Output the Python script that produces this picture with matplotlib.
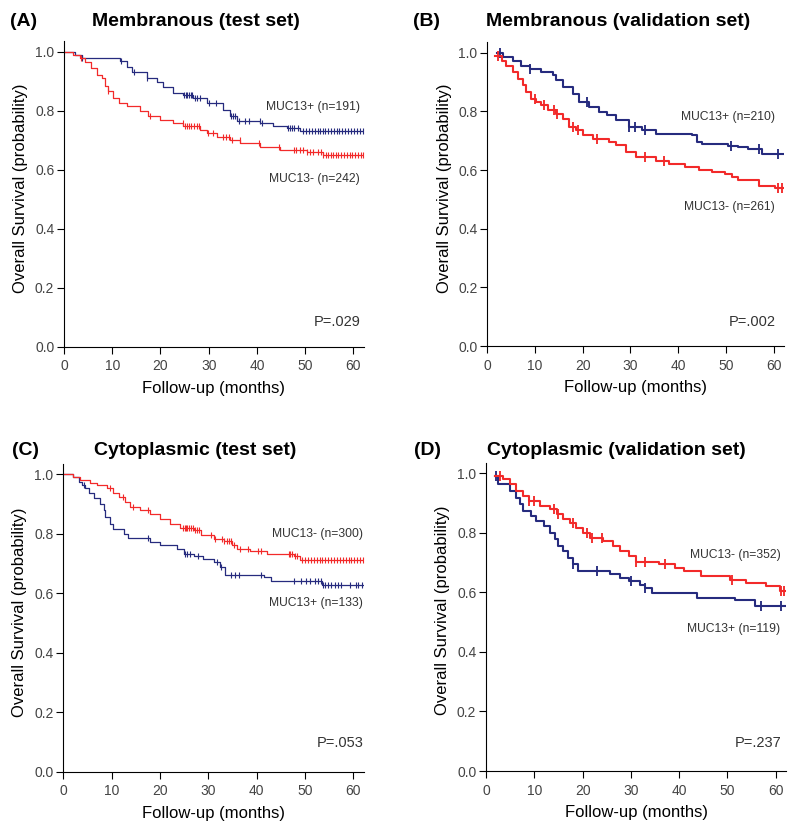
import numpy as np
import matplotlib
matplotlib.use('Agg')
import matplotlib.pyplot as plt

plt.rcParams['font.family'] = ['Liberation Sans', 'DejaVu Sans']

BLUE = '#262b7e'
RED = '#f22a2a'

# (A) Membranous, test set
a_pos_t = [0, 2.3, 3.7, 11.6, 13.0, 14.0, 17.2, 19.2, 20.6, 22.7, 24.7, 26.8, 29.6, 33.0, 34.4, 35.8, 40.7, 43.4, 46.2, 49.0]
a_pos_s = [1.0, 0.99, 0.978, 0.968, 0.95, 0.93, 0.913, 0.899, 0.882, 0.862, 0.854, 0.843, 0.826, 0.803, 0.781, 0.766, 0.758, 0.747, 0.741, 0.731]
a_pos_c = [3.8, 11.8, 14.5, 17.3, 24.8, 25.2, 25.5, 25.9, 26.3, 26.6, 27.2, 27.6, 28.3, 30.0, 31.5, 34.6, 35.0, 35.5,
           36.3, 37.6, 38.4, 40.6, 41.0, 46.4, 46.8, 47.2, 47.7, 48.5, 49.6, 50.2, 50.8, 51.4, 52.0, 52.6, 53.1, 53.6,
           54.2, 54.8, 55.4, 56.0, 56.5, 57.1, 57.7, 58.3, 58.9, 59.5, 60.1, 60.7, 61.3, 61.9]
a_neg_t = [0, 1.9, 3.3, 4.4, 5.7, 6.8, 7.8, 8.5, 9.2, 10.2, 11.3, 13.0, 15.8, 17.5, 19.9, 22.7, 24.7, 28.2, 29.6, 31.7,
           34.4, 36.5, 40.7, 44.8, 50.3, 53.8]
a_neg_s = [1.0, 0.99, 0.979, 0.967, 0.945, 0.922, 0.911, 0.883, 0.866, 0.843, 0.826, 0.815, 0.798, 0.781, 0.769, 0.758,
           0.749, 0.736, 0.724, 0.713, 0.702, 0.69, 0.679, 0.667, 0.662, 0.652]
a_neg_c = [3.6, 9.2, 17.8, 24.6, 25.0, 25.4, 25.9, 26.4, 26.9, 27.5, 28.0, 29.8, 30.9, 33.0, 33.6, 34.2, 34.9, 36.4,
           40.5, 44.6, 47.6, 48.2, 49.0, 49.6, 50.3, 51.0, 51.6, 52.6, 53.2, 53.8, 54.3, 54.8, 55.3, 55.8, 56.3, 56.8,
           57.4, 58.0, 58.6, 59.2, 59.8, 60.4, 61.0, 61.6, 62.0]

# (B) Membranous, validation set
b_pos_t = [2.0, 3.4, 5.4, 7.1, 8.9, 11.3, 13.75, 14.4, 15.8, 17.9, 19.3, 21.4, 23.5, 25.2, 26.9, 29.7, 32.5, 35.3,
           42.9, 43.9, 45.0, 50.5, 52.6, 54.7, 57.5]
b_pos_s = [1.0, 0.984, 0.97, 0.953, 0.944, 0.935, 0.922, 0.905, 0.882, 0.859, 0.831, 0.814, 0.799, 0.786, 0.769,
           0.748, 0.735, 0.723, 0.718, 0.695, 0.688, 0.683, 0.678, 0.672, 0.655]
b_pos_c = [2.6, 9.0, 21.0, 29.8, 31.0, 33.0, 51.0, 57.0, 61.0]
b_neg_t = [1.7, 3.0, 4.0, 5.4, 6.5, 7.5, 8.2, 9.2, 10.3, 11.3, 12.7, 14.4, 15.8, 17.2, 18.6, 20.0, 22.1, 25.6, 27.0,
           29.0, 31.1, 35.3, 38.1, 41.5, 44.3, 47.1, 49.9, 51.2, 52.6, 57.0, 60.3]
b_neg_s = [0.99, 0.972, 0.956, 0.933, 0.91, 0.888, 0.865, 0.842, 0.831, 0.82, 0.803, 0.791, 0.774, 0.746, 0.735, 0.72,
           0.707, 0.696, 0.684, 0.663, 0.644, 0.632, 0.621, 0.61, 0.599, 0.593, 0.588, 0.576, 0.565, 0.545, 0.537]
b_neg_c = [2.3, 10.0, 12.0, 14.0, 14.6, 18.0, 19.0, 23.0, 33.0, 37.0, 61.0, 61.8]

# (C) Cytoplasmic, test set
c_neg_t = [0, 2.1, 3.5, 5.6, 7.0, 9.0, 10.4, 11.5, 12.8, 13.9, 15.9, 18.0, 20.1, 22.1, 24.2, 27.0, 28.4, 31.1, 33.2,
           34.9, 35.9, 38.7, 42.2, 47.7, 49.0]
c_neg_s = [1.0, 0.992, 0.981, 0.97, 0.964, 0.953, 0.936, 0.924, 0.908, 0.891, 0.879, 0.868, 0.851, 0.834, 0.82, 0.812,
           0.795, 0.784, 0.775, 0.763, 0.75, 0.741, 0.733, 0.725, 0.712]
c_neg_c = [9.7, 12.3, 14.4, 17.5, 24.8, 25.1, 25.4, 25.7, 26.0, 26.4, 26.8, 27.2, 27.6, 28.0, 30.5, 31.4, 32.8, 33.3,
           33.8, 34.3, 34.8, 35.3, 36.5, 38.2, 40.2, 40.8, 46.6, 47.0, 47.4, 47.9, 48.4, 49.3, 50.0, 50.6, 51.2, 51.8,
           52.4, 53.0, 53.6, 54.2, 54.8, 55.4, 56.0, 56.6, 57.2, 57.8, 58.4, 59.0, 59.6, 60.2, 60.8, 61.4, 62.0]
c_pos_t = [0, 2.1, 3.2, 3.9, 4.6, 5.3, 6.3, 7.7, 8.4, 8.7, 9.7, 10.4, 12.5, 13.5, 18.0, 20.1, 23.5, 24.9, 27.0, 29.0,
           31.1, 32.5, 33.5, 41.5, 43.0, 53.5]
c_pos_s = [1.0, 0.99, 0.975, 0.964, 0.953, 0.936, 0.919, 0.902, 0.879, 0.857, 0.834, 0.817, 0.8, 0.786, 0.773, 0.761,
           0.75, 0.733, 0.725, 0.716, 0.705, 0.688, 0.662, 0.654, 0.641, 0.629]
c_pos_c = [4.2, 17.6, 25.1, 25.6, 26.3, 27.8, 31.8, 32.6, 34.6, 35.5, 36.4, 41.0, 47.8, 49.2, 50.2, 51.1, 52.0, 52.6,
           53.4, 53.8, 54.2, 54.8, 55.3, 56.1, 56.8, 57.5, 59.3, 60.5, 61.0, 61.8]

# (D) Cytoplasmic, validation set
d_neg_t = [1.8, 3.5, 4.9, 6.3, 7.7, 9.0, 11.1, 13.2, 14.6, 15.9, 17.3, 18.7, 20.1, 21.5, 24.2, 26.3, 27.7, 29.7, 31.0,
           35.8, 39.2, 41.0, 44.5, 50.5, 53.9, 58.0, 60.8]
d_neg_s = [0.99, 0.98, 0.963, 0.94, 0.924, 0.907, 0.89, 0.879, 0.862, 0.845, 0.834, 0.817, 0.8, 0.783, 0.772, 0.757,
           0.738, 0.722, 0.703, 0.695, 0.683, 0.673, 0.654, 0.643, 0.632, 0.621, 0.605]
d_neg_c = [3.0, 9.0, 10.0, 14.0, 15.0, 18.0, 21.0, 22.0, 24.0, 31.0, 33.0, 37.0, 51.0, 61.0, 61.8]
d_pos_t = [1.8, 2.4, 4.9, 6.3, 7.0, 7.7, 9.4, 10.4, 12.1, 13.2, 14.2, 14.9, 15.9, 17.0, 18.0, 19.0, 25.6, 27.7, 29.7,
           31.8, 33.0, 34.4, 43.6, 51.5, 55.7]
d_pos_s = [0.99, 0.963, 0.94, 0.918, 0.896, 0.873, 0.856, 0.84, 0.822, 0.8, 0.778, 0.757, 0.738, 0.716, 0.694, 0.671,
           0.66, 0.649, 0.638, 0.626, 0.615, 0.598, 0.58, 0.573, 0.555]
d_pos_c = [2.0, 18.0, 23.0, 30.0, 33.0, 57.0, 61.0]

panels = [
    dict(tag='(A)', title='Membranous (test set)', rect=[0.080, 0.582, 0.375, 0.368], tx=0.115, ty=0.974,
         curves=[(a_pos_t, a_pos_s, a_pos_c, BLUE), (a_neg_t, a_neg_s, a_neg_c, RED)], lw=0.9, ms=5,
         labels=[('MUC13+ (n=191)', 0.814), ('MUC13- (n=242)', 0.57)], lx=61.3, p='P=.029', py=0.086),
    dict(tag='(B)', title='Membranous (validation set)', rect=[0.609, 0.583, 0.371, 0.366], tx=0.607, ty=0.974,
         curves=[(b_pos_t, b_pos_s, b_pos_c, BLUE), (b_neg_t, b_neg_s, b_neg_c, RED)], lw=1.5, ms=7,
         labels=[('MUC13+ (n=210)', 0.779), ('MUC13- (n=261)', 0.473)], lx=60.3, p='P=.002', py=0.083),
    dict(tag='(C)', title='Cytoplasmic (test set)', rect=[0.079, 0.070, 0.376, 0.371], tx=0.118, ty=0.457,
         curves=[(c_pos_t, c_pos_s, c_pos_c, BLUE), (c_neg_t, c_neg_s, c_neg_c, RED)], lw=0.9, ms=5,
         labels=[('MUC13- (n=300)', 0.80), ('MUC13+ (n=133)', 0.567)], lx=62.0, p='P=.053', py=0.097),
    dict(tag='(D)', title='Cytoplasmic (validation set)', rect=[0.6075, 0.071, 0.3755, 0.3715], tx=0.609, ty=0.457,
         curves=[(d_pos_t, d_pos_s, d_pos_c, BLUE), (d_neg_t, d_neg_s, d_neg_c, RED)], lw=1.5, ms=7,
         labels=[('MUC13- (n=352)', 0.724), ('MUC13+ (n=119)', 0.478)], lx=61.0, p='P=.237', py=0.093),
]

fig = plt.figure(figsize=(8, 8.3), dpi=100)

for pn in panels:
    ax = fig.add_axes(pn['rect'])
    for t, s, c, col in pn['curves']:
        t = np.array(t)
        s = np.array(s)
        ax.step(np.append(t, 62.5), np.append(s, s[-1]), where='post', color=col, lw=pn['lw'], clip_on=True)
        idx = np.searchsorted(t, c, side='right') - 1
        ax.plot(c, s[idx], ls='none', marker='|', ms=pn['ms'], mew=pn['lw'] * 0.9, color=col)
    for txt, y in pn['labels']:
        ax.text(pn['lx'], y, txt, ha='right', va='center', fontsize=8.7, color='#333333')
    ax.text(pn['lx'] + 0.2, pn['py'], pn['p'], ha='right', va='center', fontsize=10.5, color='#333333')

    ax.set_xlim(0, 62.2)
    ax.set_ylim(0, 1.035)
    ax.set_xticks([0, 10, 20, 30, 40, 50, 60])
    ax.set_yticks([0.0, 0.2, 0.4, 0.6, 0.8, 1.0])
    ax.set_yticklabels(['0.0', '0.2', '0.4', '0.6', '0.8', '1.0'])
    ax.spines['top'].set_visible(False)
    ax.spines['right'].set_visible(False)
    ax.tick_params(length=5, width=0.8, labelsize=10, labelcolor='#444444')
    ax.tick_params(axis='y', pad=2)
    ax.tick_params(axis='x', pad=4)
    ax.set_xlabel('Follow-up (months)', fontsize=12)
    ax.set_ylabel('Overall Survival (probability)', fontsize=12)
    ax.xaxis.set_label_coords(0.5, -0.11)
    ax.yaxis.set_label_coords(-0.12, 0.52)

    fig.text(pn['tx'] - (0.1025 if pn['tag'] in ('(A)', '(C)') else 0.091), pn['ty'], pn['tag'],
             fontsize=14, fontweight='bold', va='center', ha='left')
    fig.text(pn['tx'], pn['ty'], pn['title'], fontsize=14, fontweight='bold', va='center', ha='left')

fig.savefig('out.png', dpi=100)
